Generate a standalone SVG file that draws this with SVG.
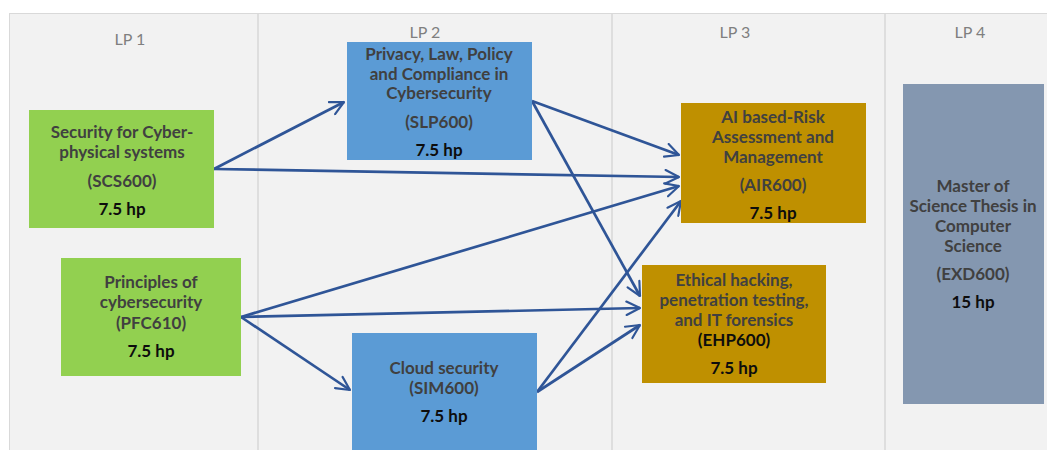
<svg xmlns="http://www.w3.org/2000/svg" width="1047" height="450" viewBox="0 0 1047 450">
<defs>
<style>
.hdr{font-family:Lato,"Liberation Sans",sans-serif;font-size:16px;fill:#7f7f7f;text-anchor:middle}
.t{font-family:Lato,"Liberation Sans",sans-serif;font-size:17px;font-weight:bold;fill:#404040;text-anchor:middle}
.hp{font-family:Lato,"Liberation Sans",sans-serif;font-size:17px;font-weight:bold;fill:#0d0d0d;text-anchor:middle}
.edge{stroke:#2f5597;stroke-width:2.7;fill:none;marker-end:url(#arr)}
.div{stroke:#d0d0d0;stroke-width:1.2}
</style>
<marker id="arr" viewBox="0 0 12 12" refX="11" refY="6" markerWidth="6" markerHeight="6" markerUnits="strokeWidth" orient="auto">
<path d="M1,1 L11,6 L1,11" fill="none" stroke="#2f5597" stroke-width="1.6" stroke-linecap="round" stroke-linejoin="round"/>
</marker>
</defs>
<rect x="0" y="0" width="1047" height="450" fill="#ffffff"/>
<rect x="9.5" y="13.5" width="1045" height="445" fill="#f2f2f2" stroke="#d9d9d9" stroke-width="1"/>
<g id="columns">
<line class="div" x1="258" y1="14" x2="258" y2="450"/>
<line class="div" x1="612" y1="14" x2="612" y2="450"/>
<line class="div" x1="885" y1="14" x2="885" y2="450"/>
<text class="hdr" x="130" y="45">LP 1</text>
<text class="hdr" x="425" y="38">LP 2</text>
<text class="hdr" x="735" y="38">LP 3</text>
<text class="hdr" x="970" y="38">LP 4</text>
</g>
<g id="connectors">
<line class="edge" x1="214" y1="169" x2="344" y2="102"/>
<line class="edge" x1="214" y1="169" x2="679" y2="177"/>
<line class="edge" x1="532" y1="101" x2="679" y2="155"/>
<line class="edge" x1="532" y1="101" x2="640" y2="296"/>
<line class="edge" x1="241" y1="317" x2="679" y2="186"/>
<line class="edge" x1="241" y1="317" x2="640" y2="308"/>
<line class="edge" x1="241" y1="317" x2="350" y2="390"/>
<line class="edge" x1="537" y1="392" x2="681" y2="201"/>
<line class="edge" x1="537" y1="392" x2="640" y2="325"/>
</g>
<g id="SCS600">
<rect x="29" y="110" width="185" height="118" fill="#92d050"/>
<text class="t" x="122" y="138">Security for Cyber-</text>
<text class="t" x="122" y="158">physical systems</text>
<text class="t" x="122" y="187">(SCS600)</text>
<text class="hp" x="122" y="215">7.5 hp</text>
</g>
<g id="PFC610">
<rect x="61" y="258" width="180" height="118" fill="#92d050"/>
<text class="t" x="151" y="288">Principles of</text>
<text class="t" x="151" y="308">cybersecurity</text>
<text class="t" x="151" y="329">(PFC610)</text>
<text class="hp" x="151" y="357">7.5 hp</text>
</g>
<g id="SLP600">
<rect x="347" y="42" width="185" height="118" fill="#5b9bd5"/>
<text class="t" x="439" y="60">Privacy, Law, Policy</text>
<text class="t" x="439" y="80">and Compliance in</text>
<text class="t" x="439" y="99">Cybersecurity</text>
<text class="t" x="439" y="128">(SLP600)</text>
<text class="hp" x="439" y="156">7.5 hp</text>
</g>
<g id="SIM600">
<rect x="352" y="333" width="185" height="125" fill="#5b9bd5"/>
<text class="t" x="444" y="374">Cloud security</text>
<text class="t" x="444" y="394">(SIM600)</text>
<text class="hp" x="444" y="422">7.5 hp</text>
</g>
<g id="AIR600">
<rect x="681" y="103" width="185" height="120" fill="#bf9000"/>
<text class="t" x="773" y="123">AI based-Risk</text>
<text class="t" x="773" y="143">Assessment and</text>
<text class="t" x="773" y="163">Management</text>
<text class="t" x="773" y="191">(AIR600)</text>
<text class="hp" x="773" y="219">7.5 hp</text>
</g>
<g id="EHP600">
<rect x="642" y="265" width="184" height="118" fill="#bf9000"/>
<text class="t" x="734" y="286">Ethical hacking,</text>
<text class="t" x="734" y="306">penetration testing,</text>
<text class="t" x="734" y="326">and IT forensics</text>
<text class="hp" x="734" y="346">(EHP600)</text>
<text class="hp" x="734" y="374">7.5 hp</text>
</g>
<g id="EXD600">
<rect x="903" y="84" width="141" height="320" fill="#8497b0"/>
<text class="t" x="973" y="192">Master of</text>
<text class="t" x="973" y="212">Science Thesis in</text>
<text class="t" x="973" y="232">Computer</text>
<text class="t" x="973" y="252">Science</text>
<text class="t" x="973" y="280">(EXD600)</text>
<text class="hp" x="973" y="308">15 hp</text>
</g>
</svg>
